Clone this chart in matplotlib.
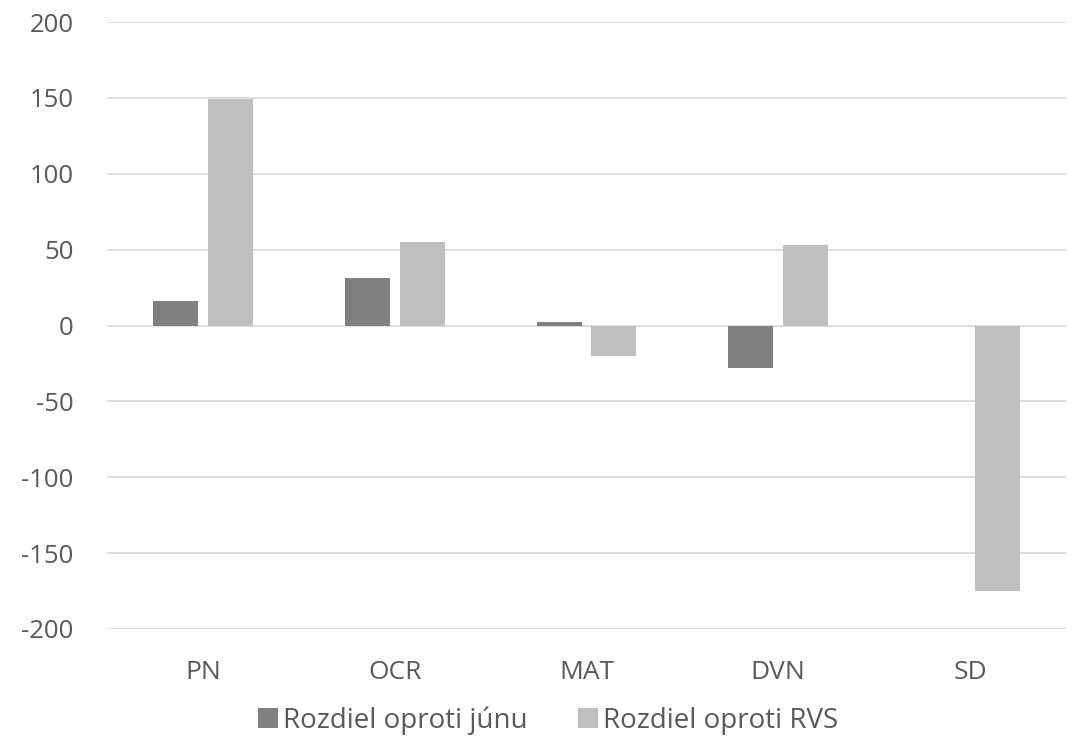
import matplotlib.pyplot as plt
import numpy as np

categories = ["PN", "OCR", "MAT", "DVN", "SD"]
rozdiel_jun = [16, 31, 2, -28, 0]
rozdiel_rvs = [149, 55, -20, 53, -175]
series_labels = ["Rozdiel oproti júnu", "Rozdiel oproti RVS"]

plt.rcParams["font.family"] = ["Open Sans", "DejaVu Sans"]
plt.rcParams["axes.unicode_minus"] = False

W, H = 1081, 748
fig = plt.figure(figsize=(W / 100, H / 100), dpi=100)
# plot area in pixels: x 107..1066, y 22..629
ax = fig.add_axes([107 / W, 1 - 629 / H, (1066 - 107) / W, (629 - 22) / H])

x = np.arange(len(categories))
width = 0.234
off = 0.143
ax.bar(x - off, rozdiel_jun, width=width, color="#808080", label=series_labels[0], zorder=3)
ax.bar(x + off, rozdiel_rvs, width=width, color="#bfbfbf", label=series_labels[1], zorder=3)

ax.set_xlim(-0.5, len(categories) - 0.5)
ax.set_ylim(-200, 200)
ax.set_yticks(range(-200, 201, 50))
ax.set_xticks(x)
ax.set_xticklabels(categories)
ax.tick_params(axis="both", length=0, labelcolor="#595959")
ax.tick_params(axis="y", labelsize=18.5, pad=24)
ax.tick_params(axis="x", labelsize=19, pad=22)
ax.grid(axis="y", color="#d9d9d9", linewidth=1.3, zorder=0)
for s in ax.spines.values():
    s.set_visible(False)

fig.legend(loc="lower center", bbox_to_anchor=(0.507, -0.016), ncol=2, frameon=False,
           fontsize=20, labelcolor="#595959", handlelength=0.72, handleheight=0.72,
           handletextpad=0.18, columnspacing=1.8)

fig.savefig("out.png", dpi=100)
